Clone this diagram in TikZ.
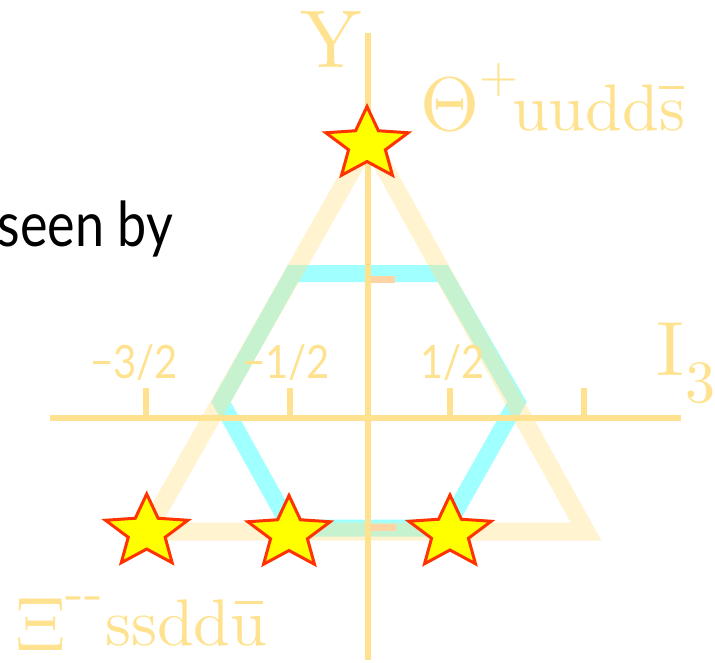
\documentclass[tikz,border=0pt]{standalone}
\usepackage{fontspec}
\newfontfamily\latofont{Lato}
\newfontfamily\cmten[Extension=.otf]{lmroman10-regular}
\definecolor{gold}{RGB}{255,226,143}
\definecolor{hexcyan}{RGB}{160,255,255}
\definecolor{peach}{RGB}{255,212,165}
\definecolor{starred}{RGB}{255,51,0}
\definecolor{staryellow}{RGB}{255,255,0}
\tikzset{
  axisline/.style={draw=gold, line width=6.5pt},
  ticksty/.style={draw=gold, line width=6pt},
  ytick/.style={draw=peach, line width=6.5pt},
  tri/.style={draw=gold, draw opacity=0.42, line width=18pt, line join=miter},
  hex/.style={draw=hexcyan, line width=17pt, line join=miter},
  starsty/.style={draw=starred, fill=staryellow, line width=3pt, line join=miter},
  lab/.style={text=gold, inner sep=0pt, font=\cmten},
}
\newcommand\starat[2]{%
  \begin{scope}[shift={(#1,#2)}, xscale=1.14]
    \draw[starsty] (270:38) -- (306:17) -- (342:38) -- (18:17) -- (54:38) -- (90:17)
      -- (126:38) -- (162:17) -- (198:38) -- (234:17) -- cycle;
  \end{scope}}
\begin{document}
\begin{tikzpicture}[x=1pt, y=-1pt]
\useasboundingbox (0,0) rectangle (715,662);
% hexagon and triangle
\draw[hex] (293,273.5) -- (443,273.5) -- (517,402) -- (446,528) -- (291,528) -- (221,402) -- cycle;
\draw[tri] (369,140) -- (586,531.5) -- (147,531.5) -- cycle;
% Y ticks
\draw[ytick] (368,279.5) -- (395,279.5);
\draw[ytick] (368,527.5) -- (396,527.5);
% axes
\draw[axisline] (50,418) -- (681,418);
\draw[axisline] (368,33) -- (368,660);
% I3 ticks
\foreach \tx in {146,290,450,584} \draw[ticksty] (\tx,388) -- (\tx,418);
% stars
\starat{367}{144.5}
\starat{146.7}{532}
\starat{289}{533.5}
\starat{450}{533}
% labels
\node[lab, anchor=base west] (ylab) at (300,67) {\fontsize{82}{82}\selectfont Y};
\node[lab, anchor=base west] (theta) at (420,130) {\fontsize{76}{76}\selectfont Θ\raisebox{38pt}{\fontsize{50}{50}\selectfont +}\kern-6pt\fontsize{66}{66}\selectfont uudd\makebox[0pt][l]{\raisebox{41pt}{\rule{25pt}{3pt}}}s};
\node[lab, anchor=base west] (xi) at (15,650) {\fontsize{76}{76}\selectfont Ξ\raisebox{40pt}{\fontsize{56}{56}\selectfont -{}-}\kern2pt\raisebox{5pt}{\fontsize{66}{66}\selectfont ssdd\makebox[0pt][l]{\hspace{4pt}\raisebox{41pt}{\rule{28pt}{3pt}}}u}};
\node[lab, anchor=base west] (ilab) at (656,375) {\fontsize{77}{77}\selectfont I};
\node[lab, anchor=base west] (isub) at (685,402) {\fontsize{60}{60}\selectfont 3};
\node[lab, anchor=base west] (t1) at (90,378) {\scalebox{0.87}[1]{\latofont\fontsize{46}{46}\selectfont −3/2}};
\node[lab, anchor=base west] (t2) at (242,378) {\scalebox{0.87}[1]{\latofont\fontsize{46}{46}\selectfont −1/2}};
\node[lab, anchor=base west] (t3) at (420,378) {\scalebox{0.87}[1]{\latofont\fontsize{46}{46}\selectfont 1/2}};
\node[anchor=base east, inner sep=0pt, text=black] (seen) at (173,246) {\scalebox{0.84}[1]{\latofont\fontsize{62}{62}\selectfont seen by}};
\end{tikzpicture}
\end{document}
